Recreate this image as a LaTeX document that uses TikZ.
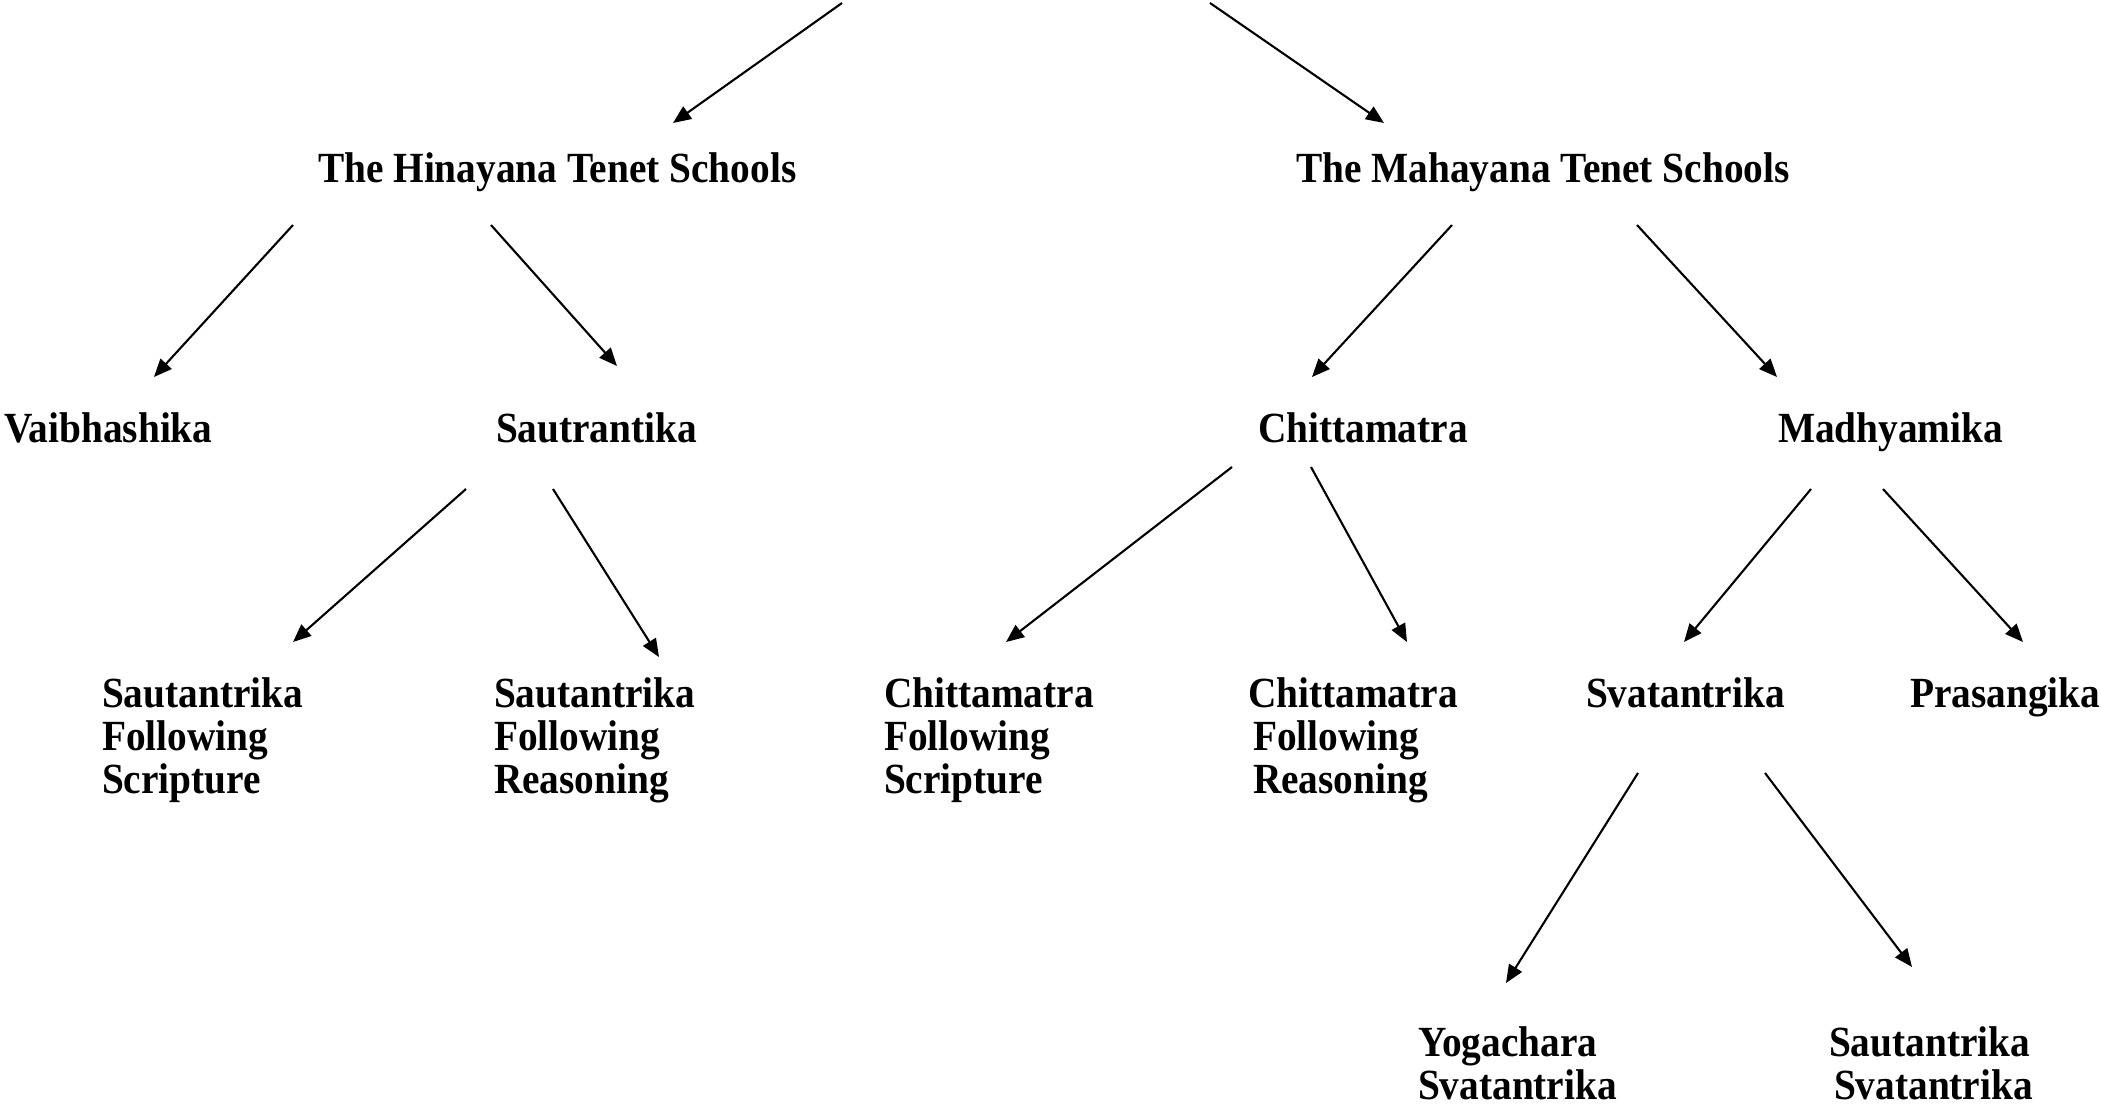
\documentclass[tikz,border=0pt]{standalone}
\usepackage{fontspec}
\setmainfont{Liberation Serif}[FakeStretch=0.915]
\usetikzlibrary{arrows.meta}
\tikzset{
  lbl/.style={inner sep=0pt, outer sep=0pt, anchor=base west,
    font={\fontsize{21.5}{21.5}\selectfont\bfseries}},
  conn/.style={line width=1.05pt, -{Triangle[length=9pt,width=7.5pt]}}
}
\newcommand{\stackL}[1]{\begin{tabular}[t]{@{}l@{}}#1\end{tabular}}
\begin{document}
\begin{tikzpicture}[x=0.5pt,y=-0.5pt]
\useasboundingbox (0,0) rectangle (2101,1105);
% labels
\node[lbl] (hin) at (318,182) {The Hinayana Tenet Schools};
\node[lbl] (mah) at (1296,182) {The Mahayana Tenet Schools};
\node[lbl] (vai) at (4,442) {Vaibhashika};
\node[lbl] (sau) at (496,442) {Sautrantika};
\node[lbl] (chi) at (1258,442) {Chittamatra};
\node[lbl] (mad) at (1778,442) {Madhyamika};
\node[lbl] (sfs) at (102,707) {\stackL{Sautantrika\\Following\\Scripture}};
\node[lbl] (sfr) at (494,707) {\stackL{Sautantrika\\Following\\Reasoning}};
\node[lbl] (cfs) at (884,707) {\stackL{Chittamatra\\Following\\Scripture}};
\node[lbl] (cfr) at (1248,707) {\stackL{Chittamatra\\\hspace*{2.5pt}Following\\\hspace*{2.5pt}Reasoning}};
\node[lbl] (sva) at (1586,707) {Svatantrika};
\node[lbl] (pra) at (1910,707) {Prasangika};
\node[lbl] (yog) at (1418,1056) {\stackL{Yogachara\\Svatantrika}};
\node[lbl] (ssv) at (1829,1056) {\stackL{Sautantrika\\\hspace*{2.5pt}Svatantrika}};
% connector end points
\coordinate (a1) at (842,3);    \coordinate (a2) at (673,123);
\coordinate (b1) at (1210,3);   \coordinate (b2) at (1384,123);
\coordinate (c1) at (293,225);  \coordinate (c2) at (154,377);
\coordinate (d1) at (491,225);  \coordinate (d2) at (617,366);
\coordinate (e1) at (1452,225); \coordinate (e2) at (1312,377);
\coordinate (f1) at (1637,225); \coordinate (f2) at (1777,377);
\coordinate (g1) at (466,489);  \coordinate (g2) at (293,642);
\coordinate (h1) at (553,489);  \coordinate (h2) at (659,657);
\coordinate (i1) at (1232,467); \coordinate (i2) at (1006,642);
\coordinate (j1) at (1311,467); \coordinate (j2) at (1407,642);
\coordinate (k1) at (1811,489); \coordinate (k2) at (1684,642);
\coordinate (l1) at (1883,489); \coordinate (l2) at (2023,642);
\coordinate (m1) at (1638,773); \coordinate (m2) at (1506,983);
\coordinate (n1) at (1765,773); \coordinate (n2) at (1912,967);
% connectors
\foreach \p in {a,b,c,d,e,f,g,h,i,j,k,l,m,n}
  \draw[conn] (\p1) -- (\p2);
\end{tikzpicture}
\end{document}
